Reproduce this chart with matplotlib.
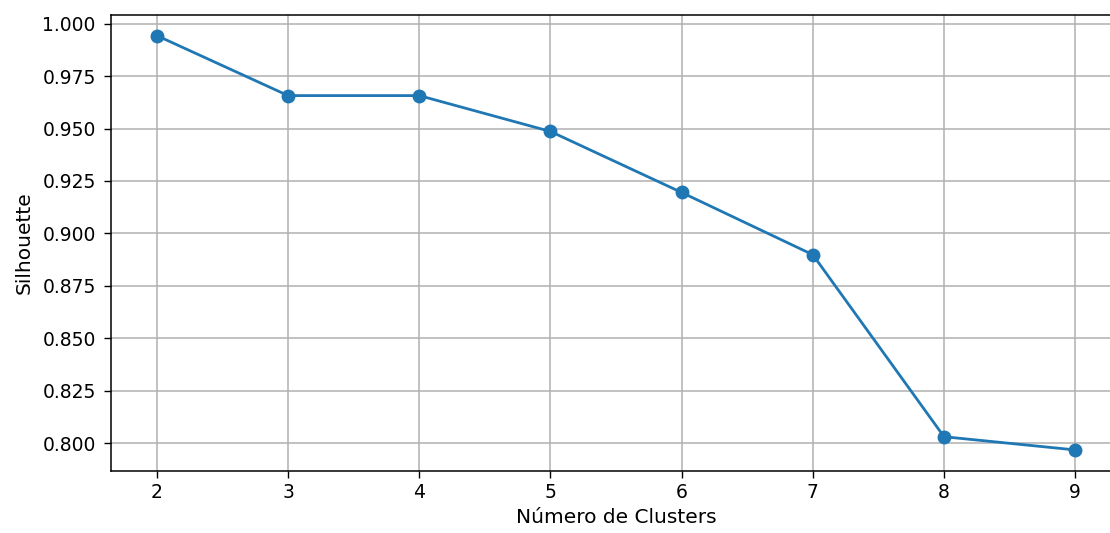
import matplotlib
matplotlib.use('Agg')
import matplotlib.pyplot as plt

# numero de clusters vs silhouette
n_clusters = [2, 3, 4, 5, 6, 7, 8, 9]
silhouette = [0.9943, 0.9657, 0.9657, 0.9486, 0.9195, 0.8898, 0.8030, 0.7967]

plt.rcParams['font.size'] = 13.5

fig = plt.figure(figsize=(11.1, 5.33), dpi=100)
# the original picture is cropped on the right, so the axes run past the edge
ax = fig.add_axes([0.1, 0.117, 0.91, 0.855])
ax.plot(n_clusters, silhouette, marker='o', markersize=9, lw=2, color='#1f77b4')
ax.set_xlabel('Número de Clusters', fontsize=14.5, labelpad=4)
ax.set_ylabel('Silhouette', fontsize=14.5, labelpad=6)
ax.tick_params(axis='x', length=5, width=1, pad=4)
ax.tick_params(axis='y', length=5, width=1, pad=6)
for s in ax.spines.values():
    s.set_linewidth(1.1)
ax.grid(True, lw=1.1)

fig.savefig('out.png', dpi=100)
